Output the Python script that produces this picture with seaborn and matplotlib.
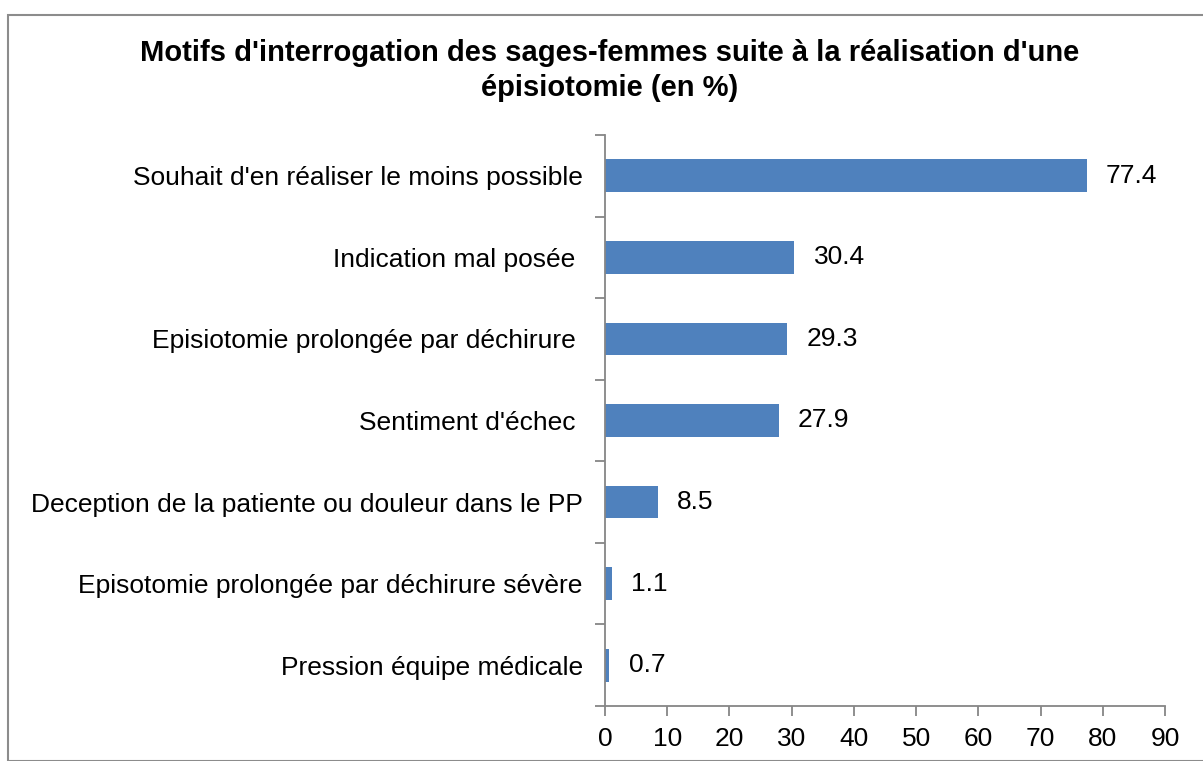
import matplotlib
matplotlib.use("Agg")
import matplotlib.pyplot as plt
import numpy as np
import pandas as pd
import seaborn as sns
from matplotlib.patches import Rectangle
from matplotlib.ticker import FixedLocator, MultipleLocator

categories = [
    "Souhait d'en réaliser le moins possible",
    "Indication mal posée ",
    "Episiotomie prolongée par déchirure ",
    "Sentiment d'échec ",
    "Deception de la patiente ou douleur dans le PP",
    "Episotomie prolongée par déchirure sévère",
    "Pression équipe médicale",
]
values = [77.4, 30.4, 29.3, 27.9, 8.5, 1.1, 0.7]
title = "Motifs d'interrogation des sages-femmes suite à la réalisation d'une\népisiotomie (en %)"

sns.set_theme(style="white")
plt.rcParams["font.family"] = ["Liberation Sans", "DejaVu Sans"]
plt.rcParams["text.color"] = "black"

df = pd.DataFrame({"motif": categories, "pct": values})

fig = plt.figure(figsize=(12.03, 7.61), dpi=100)
ax = fig.add_axes([0.5029, 0.0723, 0.4655, 0.7503])

sns.barplot(data=df, x="pct", y="motif", orient="h", color="#4F81BD",
            saturation=1, width=0.4, linewidth=0, ax=ax)

ax.set_xlim(0, 90)
ax.set_ylim(len(categories) - 0.5, -0.5)
ax.xaxis.set_major_locator(MultipleLocator(10))
ax.set_xlabel("")
ax.set_ylabel("")

grey = "#868686"
for side in ["top", "right"]:
    ax.spines[side].set_visible(False)
for side in ["left", "bottom"]:
    ax.spines[side].set_color(grey)
    ax.spines[side].set_linewidth(1.3)

fs = 19
ax.tick_params(axis="x", bottom=True, length=7, width=1.3, color=grey,
               labelsize=fs, pad=8, labelcolor="black")
ax.tick_params(axis="y", which="major", left=False, length=0, labelsize=fs,
               pad=16, labelcolor="black")
ax.yaxis.set_minor_locator(FixedLocator(np.arange(-0.5, len(categories), 1.0)))
ax.tick_params(axis="y", which="minor", left=True, length=7, width=1.3, color=grey)

ax.bar_label(ax.containers[0], labels=[f"{v:.1f}" for v in values],
             padding=14, fontsize=fs, color="black")

fig.text(0.507, 0.907, title, ha="center", va="center", fontsize=21,
         fontweight="bold", linespacing=1.3, color="black")

fig.patches.append(Rectangle((8 / 1203, 0), 1.2, 1 - 15 / 761, transform=fig.transFigure,
                             fill=False, edgecolor="#8c8c8c", linewidth=1.5))

fig.savefig("out.png", dpi=100)
